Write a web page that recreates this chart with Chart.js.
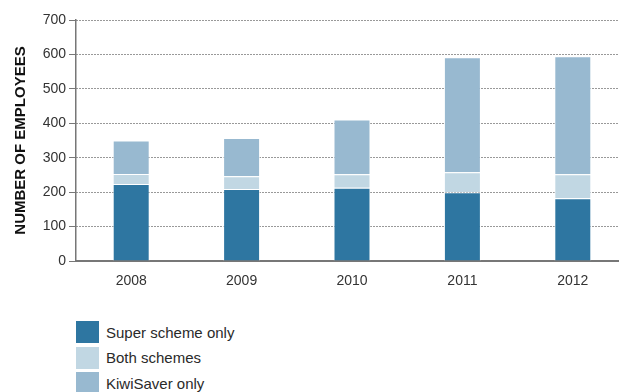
<!DOCTYPE html>
<html>
<head>
<meta charset="utf-8">
<script src="https://cdn.jsdelivr.net/npm/chart.js"></script>
<style>
  html, body { margin: 0; padding: 0; background: #fff; overflow: hidden; width: 619px; height: 392px; }
  #wrap { position: absolute; left: 0; top: 0; width: 628px; height: 295px; }
  #legend { position: absolute; left: 76px; top: 321px; font-family: "Liberation Sans", Arial, sans-serif; font-size: 15px; color: #2a2a2a; }
  .item { display: flex; align-items: center; height: 22px; margin-bottom: 3.5px; }
  .box { width: 23px; height: 22px; margin-right: 7px; }
</style>
</head>
<body>
<div id="wrap"><canvas id="chart"></canvas></div>
<div id="legend"></div>
<script>
const years = ["2008", "2009", "2010", "2011", "2012"];
const superOnly = [224, 209, 213, 200, 182];
const bothSchemes = [29, 37, 39, 58, 70];
const kiwiOnly = [97, 111, 159, 334, 343];

const series = [
  { label: "Super scheme only", data: superOnly, color: "#2E76A1" },
  { label: "Both schemes", data: bothSchemes, color: "#C1D7E3" },
  { label: "KiwiSaver only", data: kiwiOnly, color: "#98B9D0" }
];

const tickFont = { family: "Liberation Sans, Arial, sans-serif", size: 14 };

new Chart(document.getElementById("chart"), {
  type: "bar",
  data: {
    labels: years,
    datasets: series.map(s => ({
      label: s.label,
      data: s.data,
      backgroundColor: s.color,
      borderColor: "rgba(255,255,255,0.7)",
      borderWidth: 1,
      barPercentage: 0.335,
      categoryPercentage: 1
    }))
  },
  options: {
    responsive: true,
    maintainAspectRatio: false,
    animation: false,
    layout: { padding: { top: 20, left: 0, right: 0, bottom: 0 } },
    plugins: { legend: { display: false }, tooltip: { enabled: false } },
    scales: {
      x: {
        stacked: true,
        grid: { display: false, drawTicks: false },
        border: { display: true, color: "#777", width: 2 },
        ticks: { color: "#333", font: tickFont, padding: 12 },
        afterFit: s => { s.height = 34; }
      },
      y: {
        stacked: true,
        min: 0,
        max: 700,
        ticks: { stepSize: 100, color: "#333", font: tickFont, padding: 3 },
        grid: {
          color: "#333",
          lineWidth: 1,
          drawTicks: true,
          tickLength: 7,
          tickColor: "#777",
          tickBorderDash: []
        },
        border: { display: true, color: "#777", width: 1.5, dash: [1, 2] },
        title: {
          display: true,
          text: "NUMBER OF EMPLOYEES",
          color: "#111",
          font: { family: "Liberation Sans, Arial, sans-serif", size: 15, weight: "bold" },
          padding: { top: 12, bottom: 0 }
        },
        afterFit: s => { s.width = 76; }
      }
    }
  }
});

document.getElementById("legend").innerHTML = series.map(s => `
  <div class="item"><span class="box" style="background:${s.color}"></span>${s.label}</div>
`).join("");
</script>
</body>
</html>
